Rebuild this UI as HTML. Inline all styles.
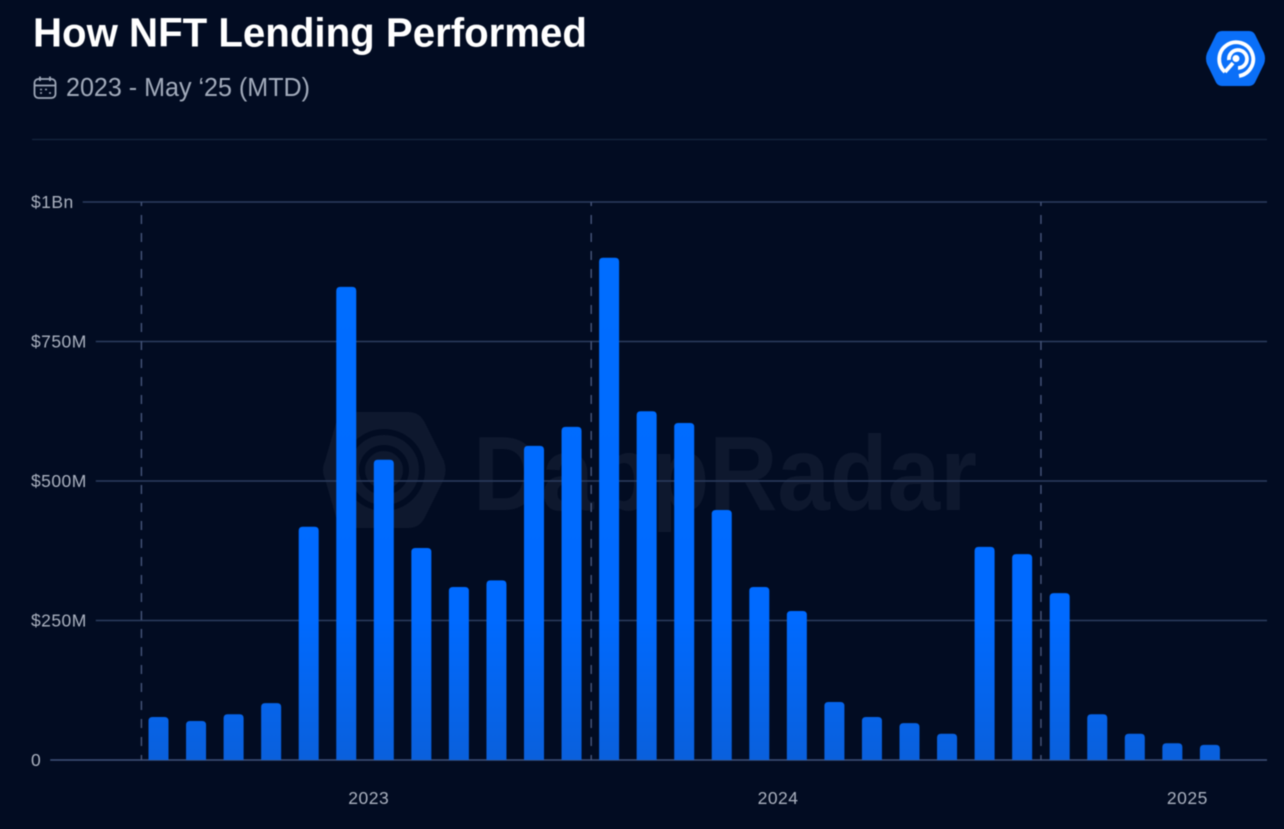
<!DOCTYPE html>
<html lang="en">
<head>
<meta charset="utf-8">
<title>How NFT Lending Performed</title>
<style>
html,body{margin:0;padding:0;background:#020c22;}
body{width:1284px;height:829px;overflow:hidden;font-family:"Liberation Sans",sans-serif;}
svg{display:block;filter:blur(0.4px);}
</style>
</head>
<body>
<svg id="chart" xmlns="http://www.w3.org/2000/svg" width="1284" height="829" viewBox="0 0 1284 829" font-family="'Liberation Sans',sans-serif">
  <defs>
    <linearGradient id="barFill" gradientUnits="userSpaceOnUse" x1="0" y1="200" x2="0" y2="760">
      <stop offset="0" stop-color="#006eff"/>
      <stop offset="0.75" stop-color="#006aff"/>
      <stop offset="1" stop-color="#0a60dc"/>
    </linearGradient>
  </defs>
  <rect width="1284" height="829" fill="#020c22"/>

  <text x="33" y="46.5" font-size="41" font-weight="700" fill="#ffffff" textLength="554" lengthAdjust="spacingAndGlyphs">How NFT Lending Performed</text>

  <g fill="none" stroke="#9ea7b8" stroke-width="1.8">
    <rect x="34.5" y="79" width="21" height="19" rx="4"/>
    <path d="M35 85.5H55M40 76.5V81M50 76.5V81"/>
    <path d="M40 89.5h2M40 93h2M45 89.5h2M49 93h2" stroke-width="1.6"/>
  </g>
  <text x="66" y="96" font-size="25.5" fill="#a2abbb" textLength="244" lengthAdjust="spacingAndGlyphs">2023 - May ‘25 (MTD)</text>

  <g>
    <path d="M1222 31H1249Q1253 31 1255 34.500L1264 53Q1266 58.500 1264 64L1255 82.500Q1253 86 1249 86H1222Q1218 86 1216 82.500L1207 64Q1205 58.500 1207 53L1216 34.500Q1218 31 1222 31Z" fill="#0a6ff8"/>
    <g fill="none" stroke="#ffffff" stroke-width="3.8">
      <path d="M1225 72A17 17 0 1 1 1239 76"/>
      <path d="M1225 72L1233 63"/>
      <path d="M1229 60A9 9 0 1 1 1238 68"/>
    </g>
    <circle cx="1236" cy="58.500" r="3.500" fill="#ffffff"/>
  </g>

  <line x1="32" y1="139.500" x2="1267" y2="139.500" stroke="#15253f" stroke-width="1.2"/>

  <g>
    <path d="M352 412H408Q420 412 425 423L444 461Q447 470 444 479L425 517Q420 528 408 528H352Q341 528 336 517L325 479Q321 470 325 461L336 423Q341 412 352 412Z" fill="#0e182e"/>
    <g fill="none" stroke="#020c22" stroke-width="6">
      <circle cx="384" cy="470" r="38"/>
      <circle cx="384" cy="470" r="22"/>
    </g>
    <text x="473" y="510" font-size="106" font-weight="700" fill="#0e182e" textLength="504" lengthAdjust="spacingAndGlyphs">DappRadar</text>
  </g>

  <g id="grid"></g>
  <g id="dividers"></g>
  <g id="bars"></g>
  <g id="yLabels"></g>
  <g id="xLabels"></g>
</svg>
<script>
// Monthly NFT lending volume, $M (Jan 2023 - May 2025)
var volumes = [77, 70, 82, 102, 418, 848, 538, 380, 310, 322, 563, 597, 900, 625, 604, 448, 310, 267, 104, 77, 66, 47, 382, 369, 299, 82, 47, 30, 27];
var yTickValues = [0, 250, 500, 750, 1000];
var yTickLabels = ['0', '$250M', '$500M', '$750M', '$1Bn'];
var yearLabels = ['2023', '2024', '2025'];
var yearLabelMonths = [5.6, 16.5, 27.4];
var yearStartMonths = [0, 12, 24];

var SVG_NS = 'http://www.w3.org/2000/svg';
var plotBottom = 760, plotTop = 202, yMax = 1000;
var firstBarX = 158.5, monthStep = 37.55, barWidth = 20, barRadius = 4;
var gridRight = 1267, labelLeft = 31;

function yScale(v) { return plotBottom - (v / yMax) * (plotBottom - plotTop); }
function xScale(m) { return firstBarX + m * monthStep; }
function make(tag, attrs, parent) {
  var el = document.createElementNS(SVG_NS, tag);
  for (var k in attrs) el.setAttribute(k, attrs[k]);
  parent.appendChild(el);
  return el;
}

var gridG = document.getElementById('grid');
var yLabelG = document.getElementById('yLabels');
yTickValues.forEach(function (v, i) {
  var y = yScale(v);
  var label = make('text', { x: labelLeft, y: y + 6, 'font-size': 17.5, 'letter-spacing': 0.45, fill: '#aab1bf' }, yLabelG);
  
  
  label.textContent = yTickLabels[i];
  var start = labelLeft + label.getComputedTextLength() + 9;
  var line = make('line', { x1: start, y1: y, x2: gridRight, y2: y, stroke: v === 0 ? '#3f5178' : '#2b3c5e', 'stroke-width': v === 0 ? 1.6 : 1.4 }, gridG);
  
  
});

var dividerG = document.getElementById('dividers');
yearStartMonths.forEach(function (m) {
  var x = xScale(m - 0.5) + 1.7 - m * 0.07;
  var d = make('line', { x1: x, y1: plotTop, x2: x, y2: plotBottom, stroke: '#46557a', 'stroke-width': 1.4, 'stroke-dasharray': '9 9', 'stroke-dashoffset': 5 }, dividerG);
  
  
});

var barG = document.getElementById('bars');
volumes.forEach(function (v, i) {
  var cx = xScale(i), l = cx - barWidth / 2, r = cx + barWidth / 2, t = yScale(v), q = barRadius;
  var d = 'M' + l + ' ' + plotBottom + 'V' + (t + q) + 'Q' + l + ' ' + t + ' ' + (l + q) + ' ' + t +
          'H' + (r - q) + 'Q' + r + ' ' + t + ' ' + r + ' ' + (t + q) + 'V' + plotBottom + 'Z';
  var bar = make('path', { d: d, fill: 'url(#barFill)' }, barG);
  
  
});

var xLabelG = document.getElementById('xLabels');
yearLabels.forEach(function (label, i) {
  var t = make('text', { x: xScale(yearLabelMonths[i]), y: 804, 'font-size': 17.5, 'letter-spacing': 0.5, 'text-anchor': 'middle', fill: '#aab1bf' }, xLabelG);
  
  
  t.textContent = label;
});
</script>
</body>
</html>
